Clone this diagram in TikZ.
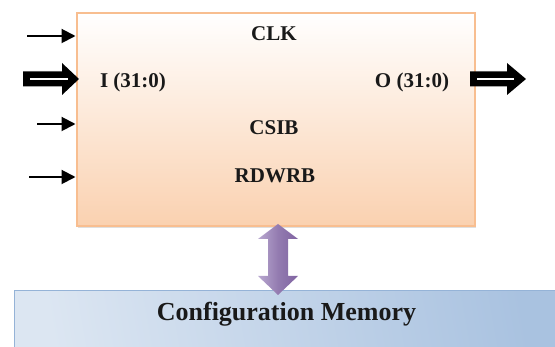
\documentclass[tikz,border=0pt]{standalone}
\usepackage{fontspec}
\setmainfont{Liberation Serif}
\usetikzlibrary{arrows.meta,shadows}
\definecolor{boxline}{HTML}{F8BE90}
\definecolor{boxbot}{HTML}{FAD1B0}
\definecolor{memtop}{HTML}{DCE6F2}
\definecolor{memright}{HTML}{A9C2E0}
\definecolor{memline}{HTML}{95B3D7}
\definecolor{purp}{HTML}{8064A2}
\definecolor{purplight}{HTML}{B9A8D0}
\tikzset{
  lbl/.style={font=\fontsize{21}{24}\selectfont\bfseries, inner sep=0pt, text=black!90},
  thinarrow/.style={line width=2pt, -{Triangle[length=14pt,width=14pt]}},
  fatarrow/.style={fill=black, draw=none},
}
\begin{document}
\begin{tikzpicture}[x=1pt,y=-1pt]
\useasboundingbox (0,0) rectangle (555,347);
% main block
\node (blk) [draw=boxline, line width=2pt, top color=white, bottom color=boxbot,
  drop shadow={shadow xshift=1.5pt, shadow yshift=-2pt, opacity=0.25},
  minimum width=398pt, minimum height=213pt, inner sep=0pt] at (275.5,119.5) {};
% memory block
\node (mem) [draw=memline, line width=1.5pt, shading=axis, left color=memtop, right color=memright, shading angle=100,
  minimum width=545pt, minimum height=60pt, inner sep=0pt, anchor=north west] at (13.5,290) {};
% labels
\node (clk) [lbl] at (274,33.5) {CLK};
\node (iin) [lbl] at (133,82) {I (31:0)};
\node (oout) [lbl] at (412,82) {O (31:0)};
\node (csib) [lbl] at (274,127.5) {CSIB};
\node (rdwrb) [lbl] at (275,175.5) {RDWRB};
\node (memlbl) [lbl, font=\fontsize{26}{30}\selectfont\bfseries, anchor=base] at (286.5,321) {Configuration Memory};
% thin input arrows
\coordinate (a1) at (27,36);
\coordinate (a3) at (37,124);
\coordinate (a4) at (29,177);
\draw[thinarrow] (a1) -- (a1 -| blk.west);
\draw[thinarrow] (a3) -- (a3 -| blk.west);
\draw[thinarrow] (a4) -- (a4 -| blk.west);
% fat input arrow
\coordinate (fi) at (23,79);
\fill[fatarrow] (fi) ++(0,-7.5) -- ++(39,0) -- ++(0,-8.5) -- (79,79) -- (62,95) -- ++(0,-8.5) -- ++(-39,0) -- cycle;
\draw[white, line width=2.5pt] (30,79) -- (68,79);
% fat output arrow
\coordinate (fo) at (470,79);
\fill[fatarrow] (fo) ++(0,-7.5) -- ++(37,0) -- ++(0,-8.5) -- (526,79) -- (507,95) -- ++(0,-8.5) -- ++(-37,0) -- cycle;
\draw[white, line width=2.5pt] (477,79) -- (514,79);
% purple double arrow
\shade[left color=purplight, right color=purp, middle color=purp!85]
  (278,224) -- (298,239) -- (288,239) -- (288,276) -- (298,276) -- (278,295)
  -- (258,276) -- (268,276) -- (268,239) -- (258,239) -- cycle;
\end{tikzpicture}
\end{document}
